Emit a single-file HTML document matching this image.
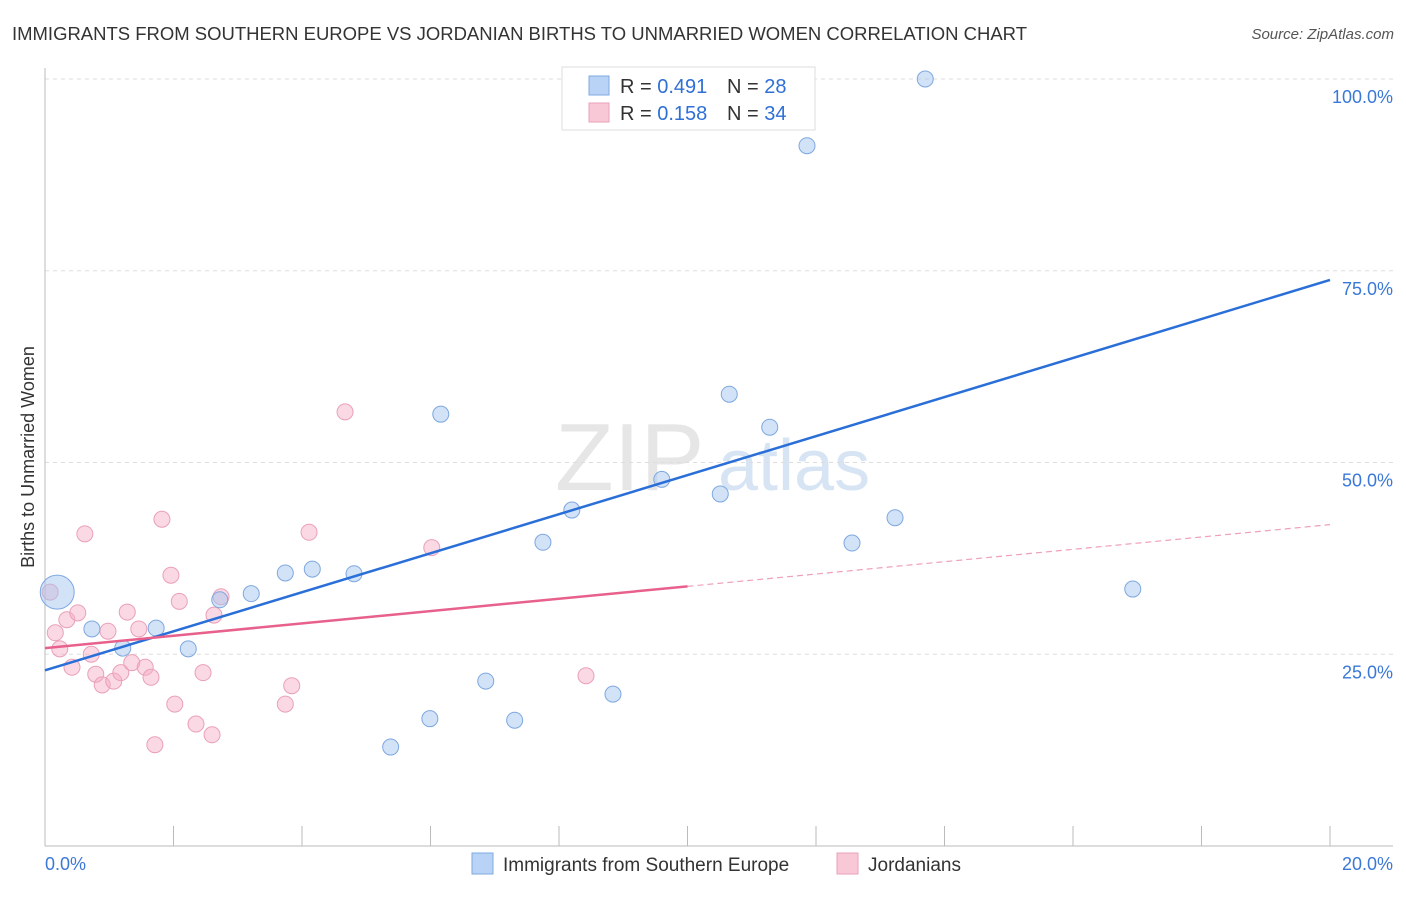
<!DOCTYPE html>
<html><head><meta charset="utf-8"><style>
body{margin:0;background:#fff;font-family:"Liberation Sans",sans-serif;}
svg text{font-family:"Liberation Sans",sans-serif;}
</style></head><body>
<svg id="chart" width="1406" height="892" viewBox="0 0 1406 892" xmlns="http://www.w3.org/2000/svg">
<text x="12" y="40" font-size="18" fill="#333" textLength="1015" lengthAdjust="spacingAndGlyphs">IMMIGRANTS FROM SOUTHERN EUROPE VS JORDANIAN BIRTHS TO UNMARRIED WOMEN CORRELATION CHART</text>
<text x="1394" y="39" font-size="15" fill="#555" font-style="italic" text-anchor="end">Source: ZipAtlas.com</text>
<g>
<text x="555" y="490" font-size="96" fill="#e6e6e6" font-family="Liberation Serif,serif">ZIP</text>
<text x="718" y="490" font-size="72" fill="#d6e4f4">atlas</text>
</g>
<text transform="translate(34,457) rotate(-90)" font-size="18" fill="#333" text-anchor="middle">Births to Unmarried Women</text>
<g id="grid"></g>
<g id="axes"></g>
<g id="points"></g>
<g id="lines"></g>
<g>
<rect x="562" y="67" width="253" height="63" fill="#fff" stroke="#ddd"/>
<rect x="589" y="76" width="20" height="19" fill="#b8d3f6" stroke="#7ea8e0"/>
<rect x="589" y="103" width="20" height="19" fill="#f9c8d6" stroke="#eaa0b8"/>
<text x="620" y="93" font-size="20" fill="#333">R = <tspan fill="#2f6fd6">0.491</tspan></text>
<text x="727" y="93" font-size="20" fill="#333">N = <tspan fill="#2f6fd6">28</tspan></text>
<text x="620" y="120" font-size="20" fill="#333">R = <tspan fill="#2f6fd6">0.158</tspan></text>
<text x="727" y="120" font-size="20" fill="#333">N = <tspan fill="#2f6fd6">34</tspan></text>
</g>
<g>
<rect x="472" y="853" width="21" height="21" fill="#b8d3f6" stroke="#7ea8e0"/>
<text x="503" y="871" font-size="19" fill="#333">Immigrants from Southern Europe</text>
<rect x="837" y="853" width="21" height="21" fill="#f9c8d6" stroke="#eaa0b8"/>
<text x="868" y="871" font-size="19" fill="#333">Jordanians</text>
</g>
</svg>
<script>
const blueX=[0.19,0.73,1.21,1.73,2.23,2.72,3.21,3.74,4.16,4.81,5.38,5.99,6.16,6.86,7.31,7.75,8.20,8.84,9.20,9.60,10.51,10.65,11.28,11.86,12.56,13.23,13.70,16.93];
const blueY=[33.1,28.3,25.8,28.4,25.7,32.1,32.9,35.6,36.1,35.5,12.9,16.6,56.3,21.5,16.4,39.6,43.8,19.8,100,47.8,45.9,58.9,54.6,91.3,39.5,42.8,100,33.5];
const pinkX=[0.08,0.16,0.23,0.34,0.42,0.51,0.62,0.72,0.79,0.89,0.98,1.07,1.18,1.28,1.35,1.46,1.56,1.65,1.71,1.82,1.96,2.02,2.09,2.35,2.46,2.60,2.63,2.74,3.74,3.84,4.11,4.67,6.02,8.42];
const pinkY=[33.1,27.8,25.7,29.5,23.3,30.4,40.7,25.0,22.4,21.0,28.0,21.5,22.6,30.5,23.9,28.3,23.3,22.0,13.2,42.6,35.3,18.5,31.9,15.9,22.6,14.5,30.1,32.5,18.5,20.9,40.9,56.6,38.9,22.2];
const blueTrend=[22.9,73.8];
const pinkTrend=[25.8,41.9];
const pinkSolidEnd=10.0;
const yTicks=[25,50,75,100];
const yTickLabels=["25.0%","50.0%","75.0%","100.0%"];
const xTicks=[0,2,4,6,8,10,12,14,16,18,20];
const NS="http://www.w3.org/2000/svg";
const xs=v=>45+v/20*1285;
const ys=v=>846-v/100*767;
function mk(parent,tag,attrs){const e=document.createElementNS(NS,tag);for(const k in attrs)e.setAttribute(k,attrs[k]);document.getElementById(parent).appendChild(e);return e;}
yTicks.forEach((t,i)=>{
 const g=mk('grid','line',{x1:45,x2:1393,y1:ys(t),y2:ys(t),stroke:'#ddd','stroke-dasharray':'4,4'});
 
 
 const tx=mk('axes','text',{x:1393,y:ys(t)+24,'font-size':18,fill:'#3a78d8','text-anchor':'end'});
 tx.textContent=yTickLabels[i];
 
 
});
const ax=mk('axes','line',{x1:45,x2:45,y1:68,y2:846,stroke:'#bbb'});


const bx=mk('axes','line',{x1:45,x2:1393,y1:846,y2:846,stroke:'#bbb'});


xTicks.forEach(t=>{
 const l=mk('axes','line',{x1:xs(t),x2:xs(t),y1:826,y2:846,stroke:'#bbb'});
 
 
});
const xl0=mk('axes','text',{x:45,y:870,'font-size':18,fill:'#3a78d8'});xl0.textContent=xTicks[0].toFixed(1)+'%';


const xl1=mk('axes','text',{x:1393,y:870,'font-size':18,fill:'#3a78d8','text-anchor':'end'});xl1.textContent=xTicks[xTicks.length-1].toFixed(1)+'%';


pinkX.forEach((x,i)=>{
 const c=mk('points','circle',{cx:xs(x),cy:ys(pinkY[i]),r:8,fill:'rgba(245,170,195,0.45)',stroke:'#eaa0b8','stroke-width':1});
 
 
});
blueX.forEach((x,i)=>{
 const c=mk('points','circle',{cx:xs(x),cy:ys(blueY[i]),r:i===0?17:8,fill:'rgba(165,198,240,0.5)',stroke:'#7ea8e0','stroke-width':1});
 
 
});
const bl=mk('lines','line',{x1:xs(0),y1:ys(blueTrend[0]),x2:xs(20),y2:ys(blueTrend[1]),stroke:'#2a6fd8','stroke-width':2.5});


const pm=pinkTrend[0]+(pinkTrend[1]-pinkTrend[0])*pinkSolidEnd/20;
const pl=mk('lines','line',{x1:xs(0),y1:ys(pinkTrend[0]),x2:xs(pinkSolidEnd),y2:ys(pm),stroke:'#e8608c','stroke-width':2.5});


const pd=mk('lines','line',{x1:xs(pinkSolidEnd),y1:ys(pm),x2:xs(20),y2:ys(pinkTrend[1]),stroke:'#eea0b8','stroke-width':1.2,'stroke-dasharray':'6,4'});


</script>
</body></html>
